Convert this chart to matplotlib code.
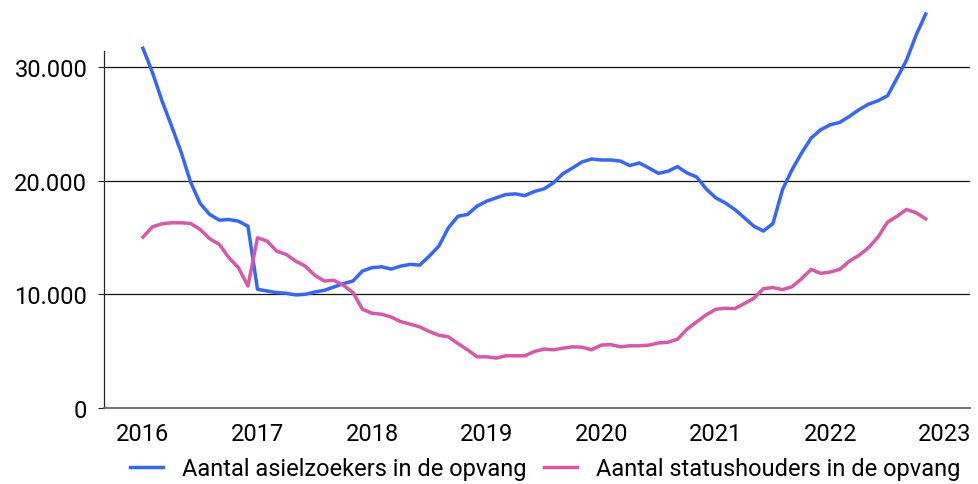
import numpy as np
import matplotlib
matplotlib.use('Agg')
from matplotlib import pyplot as plt

plt.rcParams['font.family'] = ['Roboto', 'DejaVu Sans']

# maandelijkse standen, jan 2016 t/m nov 2022
start_year = 2016
asielzoekers = [31640, 29500, 27000, 24800, 22500, 19850, 17980, 17020, 16520, 16580,
                16430, 15990, 10440, 10290, 10150, 10090, 9940, 10000, 10200, 10350,
                10640, 10940, 11170, 12050, 12340, 12420, 12220, 12480, 12630, 12570,
                13360, 14240, 15850, 16870, 17020, 17750, 18190, 18480, 18770, 18830,
                18680, 19040, 19270, 19800, 20610, 21110, 21640, 21900, 21810, 21810,
                21720, 21320, 21550, 21110, 20640, 20820, 21230, 20670, 20320, 19270,
                18480, 18040, 17460, 16730, 15990, 15560, 16230, 19210, 20960, 22430,
                23740, 24470, 24910, 25120, 25640, 26230, 26720, 27020, 27460, 29010,
                30610, 32810, 34650]
statushouders = [15030, 15940, 16200, 16290, 16290, 16230, 15700, 14880, 14390, 13220,
                 12340, 10730, 14970, 14680, 13800, 13510, 12920, 12480, 11670, 11170,
                 11230, 10790, 10150, 8680, 8330, 8250, 8000, 7600, 7370, 7130,
                 6730, 6400, 6260, 5670, 5120, 4500, 4500, 4390, 4590, 4590,
                 4590, 4970, 5180, 5120, 5260, 5380, 5350, 5120, 5530, 5580,
                 5380, 5470, 5470, 5530, 5720, 5780, 6050, 6930, 7570, 8190,
                 8680, 8770, 8740, 9180, 9650, 10500, 10590, 10410, 10670, 11370,
                 12190, 11840, 11960, 12190, 12920, 13420, 14090, 15030, 16340, 16870,
                 17460, 17170, 16640]
year_ticks = list(range(2016, 2024))
y_ticks = [0, 10000, 20000, 30000]
y_labels = ['0', '10.000', '20.000', '30.000']
series_names = ['Aantal asielzoekers in de opvang', 'Aantal statushouders in de opvang']

x = start_year + np.arange(len(asielzoekers)) / 12

fig = plt.figure(figsize=(9.79, 4.85), dpi=100)
ax = fig.add_axes([104 / 979, 76 / 485, 866 / 979, 409 / 485])

ax.plot(x, asielzoekers, color='#3366ff', lw=2.5, label=series_names[0], zorder=3, clip_on=False)
ax.plot(x, statushouders, color='#dd55aa', lw=2.5, label=series_names[1], zorder=3, clip_on=False)

ax.set_xlim(2015.66, 2023.22)
ax.set_ylim(0, 35970)

ax.set_yticks(y_ticks)
ax.set_yticklabels(y_labels)
ax.set_xticks(year_ticks)
ax.tick_params(axis='x', length=0, pad=10, labelsize=17)
ax.tick_params(axis='y', length=4, width=0.8, pad=8, labelsize=17, color='#222222')
for t in y_ticks[1:]:
    ax.axhline(t, color='#111111', lw=0.9, zorder=1)

for s in ['top', 'right']:
    ax.spines[s].set_visible(False)
ax.spines['left'].set_bounds(0, 31400)
ax.spines['left'].set_color('#222222')
ax.spines['left'].set_linewidth(0.9)
ax.spines['bottom'].set_color('#666666')
ax.spines['bottom'].set_linewidth(1.3)

fig.legend(loc='center', bbox_to_anchor=(545 / 979, 1 - 470 / 485), ncol=2, frameon=False,
           fontsize=17, handlelength=1.4, handletextpad=0.8, columnspacing=0.75)

fig.savefig('out.png', dpi=100)
